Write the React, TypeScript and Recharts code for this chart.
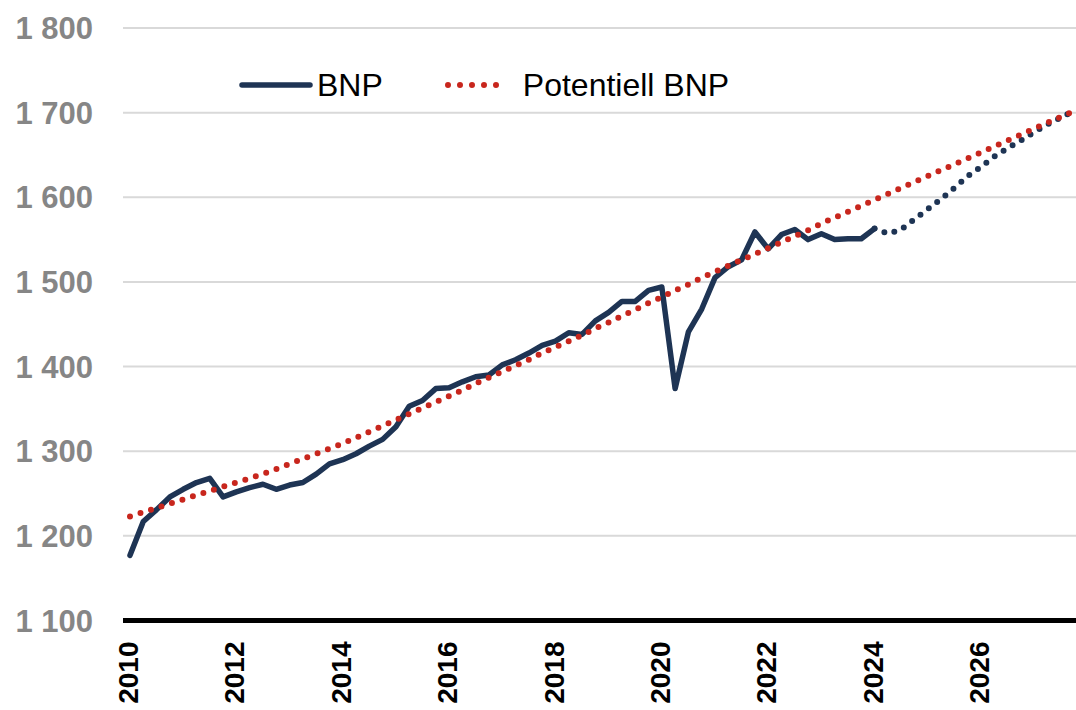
import { CartesianGrid, Legend, Line, LineChart, XAxis, YAxis } from "recharts";

const years = [2010, 2011, 2012, 2013, 2014, 2015, 2016, 2017, 2018, 2019, 2020, 2021, 2022, 2023, 2024, 2025, 2026, 2027];
const quarters = years.flatMap(y => [1, 2, 3, 4].map(q => `${y}K${q}`));

// BNP, utfall 2010K1-2024K1
const bnp = [
  1177, 1217, 1231, 1246, 1255, 1263, 1268, 1246, 1252, 1257, 1261, 1255, 1260, 1263, 1273, 1285,
  1290, 1297, 1306, 1314, 1329, 1353, 1360, 1374, 1375, 1382, 1388, 1390, 1402, 1408, 1416, 1425,
  1430, 1440, 1438, 1454, 1464, 1477, 1477, 1490, 1494, 1374, 1441, 1468, 1505, 1518, 1526, 1559,
  1539, 1556, 1562, 1550, 1557, 1550, 1551, 1551, 1563,
];

// prognos from 2024K1
const prognosStart = "2024K1";
const prognos = [1563, 1557, 1562, 1574, 1586, 1598, 1611, 1625, 1636, 1648, 1658, 1667, 1677, 1686, 1694, 1702];

const potentiell = [
  1223, 1228, 1233, 1238, 1243, 1248, 1253, 1258, 1263, 1268, 1273, 1279, 1285, 1291, 1297, 1303,
  1309, 1316, 1323, 1330, 1337, 1344, 1351, 1358, 1365, 1372, 1380, 1387, 1394, 1401, 1408, 1416,
  1423, 1430, 1437, 1445, 1452, 1460, 1467, 1475, 1482, 1490, 1497, 1505, 1512, 1519, 1526, 1533,
  1540, 1547, 1554, 1561, 1569, 1576, 1583, 1590, 1597, 1604, 1611, 1618, 1625, 1632, 1639, 1646,
  1653, 1660, 1667, 1674, 1681, 1688, 1695, 1702,
];

const yTicks = [1100, 1200, 1300, 1400, 1500, 1600, 1700, 1800];

const startIdx = quarters.indexOf(prognosStart);
const data = quarters.map((kvartal, i) => ({
  kvartal,
  bnp: i < bnp.length ? bnp[i] : null,
  prognos: i >= startIdx ? prognos[i - startIdx] : null,
  potentiell: potentiell[i],
}));

const NAVY = "#1e3454";
const RED = "#c8261d";
const FONT = "'Liberation Sans', Arial, sans-serif";

function YearTick({ x, y, payload }: any) {
  const tx = x - 2;
  return (
    <text
      x={tx}
      y={y}
      transform={`rotate(-90, ${tx}, ${y})`}
      textAnchor="end"
      dy="0.36em"
      fontFamily={FONT}
      fontWeight="bold"
      fontSize={28}
      fill="#000"
    >
      {String(payload.value).slice(0, 4)}
    </text>
  );
}

function LegendContent({ payload }: any) {
  const items = (payload || []).filter((p: any) => p.type !== "none");
  return (
    <div style={{ display: "flex", alignItems: "center", fontFamily: FONT, fontSize: 32, color: "#000", lineHeight: "34px" }}>
      {items.map((p: any, i: number) => {
        const dotted = p.dataKey === "potentiell";
        return (
          <div key={p.dataKey} style={{ display: "flex", alignItems: "center", marginLeft: i === 0 ? 0 : 62 }}>
            <svg width={dotted ? 66 : 74} height={20} style={{ display: "block" }}>
              {dotted ? (
                <line x1={3} y1={10} x2={63} y2={10} stroke={RED} strokeWidth={6} strokeLinecap="round" strokeDasharray="0 12" />
              ) : (
                <line x1={3} y1={10} x2={71} y2={10} stroke={NAVY} strokeWidth={5.5} strokeLinecap="round" />
              )}
            </svg>
            <span style={{ marginLeft: dotted ? 12 : 4 }}>{p.value}</span>
          </div>
        );
      })}
    </div>
  );
}

export default function App() {
  return (
    <div style={{ position: "fixed", left: 0, top: 0, width: 1076, height: 710, overflow: "hidden", background: "#fff" }}>
      <LineChart width={1076} height={710} data={data} margin={{ top: 28, right: 0, left: 0, bottom: 0 }}>
        <CartesianGrid horizontal vertical={false} stroke="#d9d9d9" strokeWidth={2} />
        <XAxis
          dataKey="kvartal"
          interval={7}
          height={89.5}
          padding={{ left: 7, right: 2 }}
          axisLine={{ stroke: "#000", strokeWidth: 5 }}
          tickLine={false}
          tickSize={0}
          tickMargin={21}
          tick={<YearTick />}
        />
        <YAxis
          type="number"
          domain={[1100, 1800]}
          ticks={yTicks}
          width={123}
          axisLine={false}
          tickLine={false}
          tickSize={0}
          tickMargin={30}
          tickFormatter={(v: number) => `${Math.floor(v / 1000)} ${String(v % 1000).padStart(3, "0")}`}
          tick={{ fontFamily: FONT, fontWeight: "bold", fontSize: 31, fill: "#868686" }}
        />
        <Legend
          layout="horizontal"
          verticalAlign="middle"
          align="center"
          wrapperStyle={{ top: 68, left: 239, width: "auto", height: "auto" }}
          content={<LegendContent />}
        />
        <Line
          type="linear"
          dataKey="bnp"
          name="BNP"
          stroke={NAVY}
          strokeWidth={5.5}
          strokeLinejoin="round"
          strokeLinecap="round"
          dot={false}
          activeDot={false}
          isAnimationActive={false}
        />
        <Line
          type="linear"
          dataKey="prognos"
          name="Prognos"
          legendType="none"
          stroke={NAVY}
          strokeWidth={6}
          strokeLinecap="round"
          strokeDasharray="0 10.5"
          dot={false}
          activeDot={false}
          isAnimationActive={false}
        />
        <Line
          type="linear"
          dataKey="potentiell"
          name="Potentiell BNP"
          stroke={RED}
          strokeWidth={6}
          strokeLinecap="round"
          strokeDasharray="0 11"
          dot={false}
          activeDot={false}
          isAnimationActive={false}
        />
      </LineChart>
    </div>
  );
}
